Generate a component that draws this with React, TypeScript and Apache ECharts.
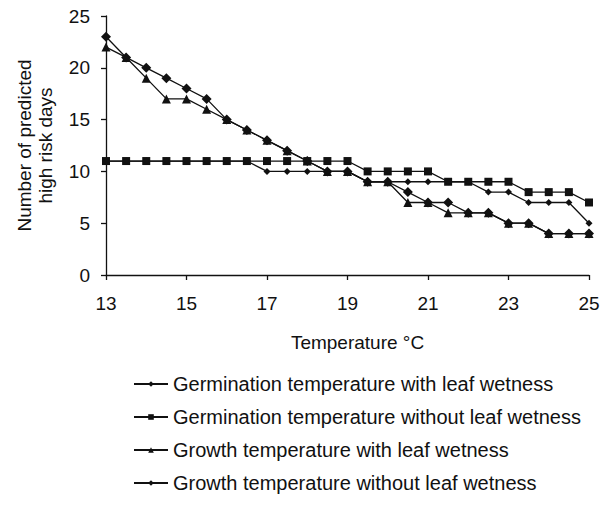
import React, { useEffect, useRef } from "react";
import * as echarts from "echarts";

// Temperature steps (°C)
const temperatures = [
  13, 13.5, 14, 14.5, 15, 15.5, 16, 16.5, 17, 17.5, 18, 18.5, 19,
  19.5, 20, 20.5, 21, 21.5, 22, 22.5, 23, 23.5, 24, 24.5, 25,
];

// Number of predicted high risk days per temperature
const germinationWithLW = [
  23, 21, 20, 19, 18, 17, 15, 14, 13, 12, 11, 10, 10,
  9, 9, 8, 7, 7, 6, 6, 5, 5, 4, 4, 4,
];
const germinationWithoutLW = [
  11, 11, 11, 11, 11, 11, 11, 11, 11, 11, 11, 11, 11,
  10, 10, 10, 10, 9, 9, 9, 9, 8, 8, 8, 7,
];
const growthWithLW = [
  22, 21, 19, 17, 17, 16, 15, 14, 13, 12, 11, 10, 10,
  9, 9, 7, 7, 6, 6, 6, 5, 5, 4, 4, 4,
];
const growthWithoutLW = [
  11, 11, 11, 11, 11, 11, 11, 11, 10, 10, 10, 10, 10,
  9, 9, 9, 9, 9, 9, 8, 8, 7, 7, 7, 5,
];

const seriesNames = [
  "Germination temperature with leaf wetness",
  "Germination temperature without leaf wetness",
  "Growth temperature with leaf wetness",
  "Growth temperature without leaf wetness",
];

const FONT = "'Liberation Sans', Arial, sans-serif";
const INK = "#111";

const pairs = (ys: number[]) => temperatures.map((t, i) => [t, ys[i]]);

export default function App() {
  const ref = useRef<HTMLDivElement>(null);

  useEffect(() => {
    if (!ref.current) return;
    const chart = echarts.init(ref.current, undefined, { renderer: "svg" });

    const mk = (name: string, ys: number[], symbol: string, size: number) => ({
      name,
      type: "line",
      data: pairs(ys),
      symbol,
      symbolSize: size,
      showSymbol: true,
      lineStyle: { color: INK, width: 1.3 },
      itemStyle: { color: INK, borderWidth: 0 },
      emphasis: { disabled: true },
    });

    chart.setOption({
      animation: false,
      backgroundColor: "#fff",
      textStyle: { fontFamily: FONT, color: INK },
      grid: { left: 106, right: 14, top: 16, bottom: 231 },
      xAxis: {
        type: "value",
        min: 13,
        max: 25,
        interval: 2,
        name: "Temperature °C",
        nameLocation: "middle",
        nameGap: 58,
        nameTextStyle: { fontSize: 19, fontFamily: FONT, color: INK, padding: [0, 0, 0, 20] },
        axisLine: { show: true, lineStyle: { color: INK, width: 1.3 } },
        axisTick: { show: true, length: 5, lineStyle: { color: INK, width: 1.3 } },
        axisLabel: { fontSize: 19, fontFamily: FONT, color: INK, margin: 19 },
        splitLine: { show: false },
      },
      yAxis: {
        type: "value",
        min: 0,
        max: 25,
        interval: 5,
        name: "Number of predicted\nhigh risk days",
        nameLocation: "middle",
        nameGap: 50,
        nameTextStyle: { fontSize: 19, fontFamily: FONT, color: INK, lineHeight: 21 },
        axisLine: { show: true, lineStyle: { color: INK, width: 1.3 } },
        axisTick: { show: true, length: 5, lineStyle: { color: INK, width: 1.3 } },
        axisLabel: { fontSize: 19, fontFamily: FONT, color: INK, margin: 16 },
        splitLine: { show: false },
      },
      legend: {
        orient: "vertical",
        left: 128,
        top: 369,
        itemWidth: 34,
        itemHeight: 7,
        itemGap: 13,
        textStyle: { fontSize: 20, fontFamily: FONT, color: INK },
        data: seriesNames,
      },
      series: [
        mk(seriesNames[0], germinationWithLW, "diamond", 10),
        mk(seriesNames[1], germinationWithoutLW, "rect", 8),
        mk(seriesNames[2], growthWithLW, "triangle", 9),
        mk(seriesNames[3], growthWithoutLW, "diamond", 7),
      ],
    });

    return () => chart.dispose();
  }, []);

  return (
    <div
      ref={ref}
      style={{ position: "fixed", left: 0, top: 0, width: 603, height: 506, background: "#fff" }}
    />
  );
}
